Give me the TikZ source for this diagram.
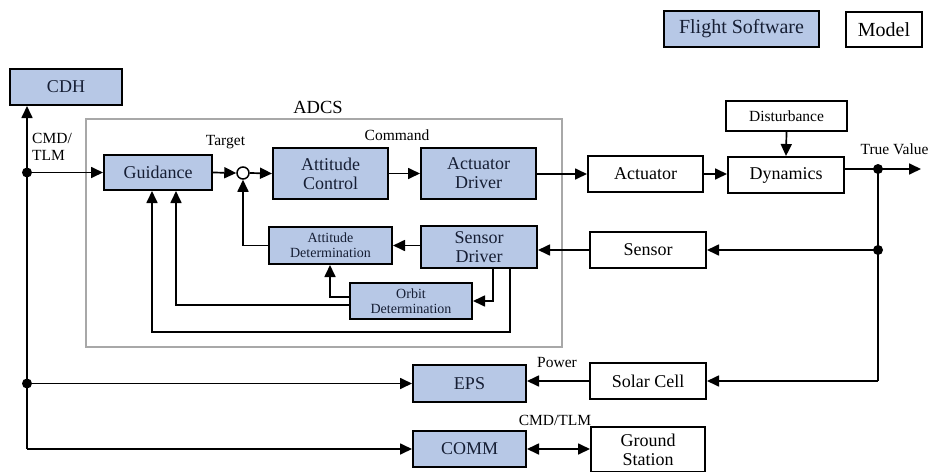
\documentclass[tikz,border=0pt]{standalone}
\usepackage{fontspec}
\setmainfont{Liberation Serif}
\usetikzlibrary{arrows.meta,positioning}
\definecolor{fsblue}{RGB}{183,200,230}
\definecolor{fstext}{RGB}{22,30,52}
\definecolor{adcsgray}{RGB}{168,168,168}
\tikzset{
  fsbox/.style={draw=black,line width=2pt,fill=fsblue,text=fstext,inner sep=0pt,align=center,font=\fontsize{18}{19}\selectfont},
  mdbox/.style={draw=black,line width=2pt,fill=white,inner sep=0pt,align=center,font=\fontsize{18}{19}\selectfont},
  lbl/.style={inner sep=0pt,font=\fontsize{15.5}{17}\selectfont},
  conn/.style={line width=1.7pt},
  arr/.style={line width=1.7pt,-{Triangle[length=12pt,width=11pt]}},
  darr/.style={line width=1.7pt,{Triangle[length=12pt,width=11pt]}-{Triangle[length=12pt,width=11pt]}},
  jdot/.style={circle,fill=black,inner sep=0pt,minimum size=10pt},
}
\begin{document}
\begin{tikzpicture}[x=1pt,y=-1pt]
\useasboundingbox (0,0) rectangle (933,471);
% legend
\node[fsbox,minimum width=155pt,minimum height=36pt,font=\fontsize{20}{21}\selectfont] (fs) at (741.5,29) {Flight Software};
\node[mdbox,minimum width=76pt,minimum height=35pt,font=\fontsize{20}{21}\selectfont] (model) at (884,29.5) {Model};
% ADCS frame
\node[draw=adcsgray,line width=2pt,minimum width=476pt,minimum height=228pt,inner sep=0pt] (adcs) at (324,233) {};
\node[font=\fontsize{18.5}{19}\selectfont,inner sep=0pt] (adcslbl) at (318,107) {ADCS};
% flight software boxes
\node[fsbox,minimum width=112pt,minimum height=36pt] (cdh) at (66,87) {CDH};
\node[fsbox,minimum width=108pt,minimum height=35pt] (gui) at (158,172.5) {Guidance};
\node[circle,draw=black,line width=1.5pt,fill=white,minimum size=12pt,inner sep=0pt] (sum) at (243,173) {};
\node[fsbox,minimum width=115pt,minimum height=51pt] (ac) at (330.5,173.5) {Attitude\\Control};
\node[fsbox,minimum width=115pt,minimum height=51pt] (ad) at (478.5,173.5) {Actuator\\Driver};
\node[fsbox,minimum width=123pt,minimum height=37pt,font=\fontsize{14}{15}\selectfont] (adet) at (330.5,245.5) {Attitude\\Determination};
\node[fsbox,minimum width=116pt,minimum height=42pt] (sd) at (479,247) {Sensor\\Driver};
\node[fsbox,minimum width=122pt,minimum height=36pt,font=\fontsize{14}{15}\selectfont] (od) at (411,301) {Orbit\\Determination};
\node[fsbox,minimum width=113pt,minimum height=37pt] (eps) at (469.5,383.5) {EPS};
\node[fsbox,minimum width=113pt,minimum height=36pt] (comm) at (469.5,449) {COMM};
% model boxes
\node[mdbox,minimum width=115pt,minimum height=36pt] (act) at (645.5,174) {Actuator};
\node[mdbox,minimum width=116pt,minimum height=36pt] (dyn) at (786,175) {Dynamics};
\node[mdbox,minimum width=121pt,minimum height=30pt,font=\fontsize{15.5}{17}\selectfont] (dist) at (786.5,116) {Disturbance};
\node[mdbox,minimum width=116pt,minimum height=36pt] (sen) at (648,250) {Sensor};
\node[mdbox,minimum width=116pt,minimum height=36pt] (sol) at (648,381) {Solar Cell};
\node[mdbox,minimum width=114pt,minimum height=45pt] (gs) at (648,449.5) {Ground\\Station};
% labels
\node[lbl] (tgt) at (225.5,142) {Target};
\node[lbl] (cmd) at (397,135) {Command};
\node[lbl] (tv) at (894.5,149) {True Value};
\node[lbl] (pow) at (557,362) {Power};
\node[lbl] (ct) at (555,420) {CMD/TLM};
\node[lbl,align=left,anchor=north west,font=\fontsize{15.5}{17}\selectfont] (ctl) at (32,133) {CMD/\\TLM};
% junction dots and coordinates
\node[jdot] (dg) at (27,172.5) {};
\node[jdot] (de) at (27,383.5) {};
\coordinate (cb) at (27,449);
\node[jdot] (dt) at (878,169) {};
\node[jdot] (dsn) at (878,250) {};
\coordinate (tvend) at (921,169);
\coordinate (rb) at (878,381);
\coordinate (sdA) at (493,301);
\coordinate (sdB) at (510,332);
\coordinate (odA) at (330,297);
\coordinate (odB) at (176,305);
\coordinate (gB) at (152,332);
% connectors: left spine
\draw[arr] (dg.center) -- (dg.center |- cdh.south);
\draw[arr] (dg.center) -- (gui.west);
\draw[conn] (dg.center) -- (de.center) -- (cb);
\draw[arr] (de.center) -- (eps.west);
\draw[arr] (cb) -- (comm.west);
% forward path
\draw[arr] (gui.east) -- (sum.west);
\draw[arr] (sum.east) -- (ac.west);
\draw[arr] (ac.east) -- (ad.west);
\draw[arr] (ad.east |- act.west) -- (act.west);
\draw[arr] (act.east) -- (act.east -| dyn.west);
\draw[arr] (dist.south) -- (dyn.north);
\draw[conn] (dt.center -| dyn.east) -- (dt.center);
\draw[arr] (dt.center) -- (tvend);
% feedback
\draw[conn] (dt.center) -- (dsn.center) -- (rb);
\draw[arr] (dsn.center) -- (sen.east);
\draw[arr] (sen.west) -- (sen.west -| sd.east);
\draw[arr] (sd.west |- adet.east) -- (adet.east);
\draw[arr] (adet.west) -| (sum.south);
\draw[arr] (sdA |- sd.south) -- (sdA) -- (od.east |- sdA);
\draw[arr] (od.west |- odA) -- (odA) -- (odA |- adet.south);
\draw[arr] (od.west |- odB) -- (odB) -- (odB |- gui.south);
\draw[arr] (sdB |- sd.south) -- (sdB) -- (gB) -- (gB |- gui.south);
\draw[arr] (rb) -- (sol.east);
\draw[arr] (sol.west) -- (sol.west -| eps.east);
\draw[darr] (comm.east) -- (comm.east -| gs.west);
\end{tikzpicture}
\end{document}
